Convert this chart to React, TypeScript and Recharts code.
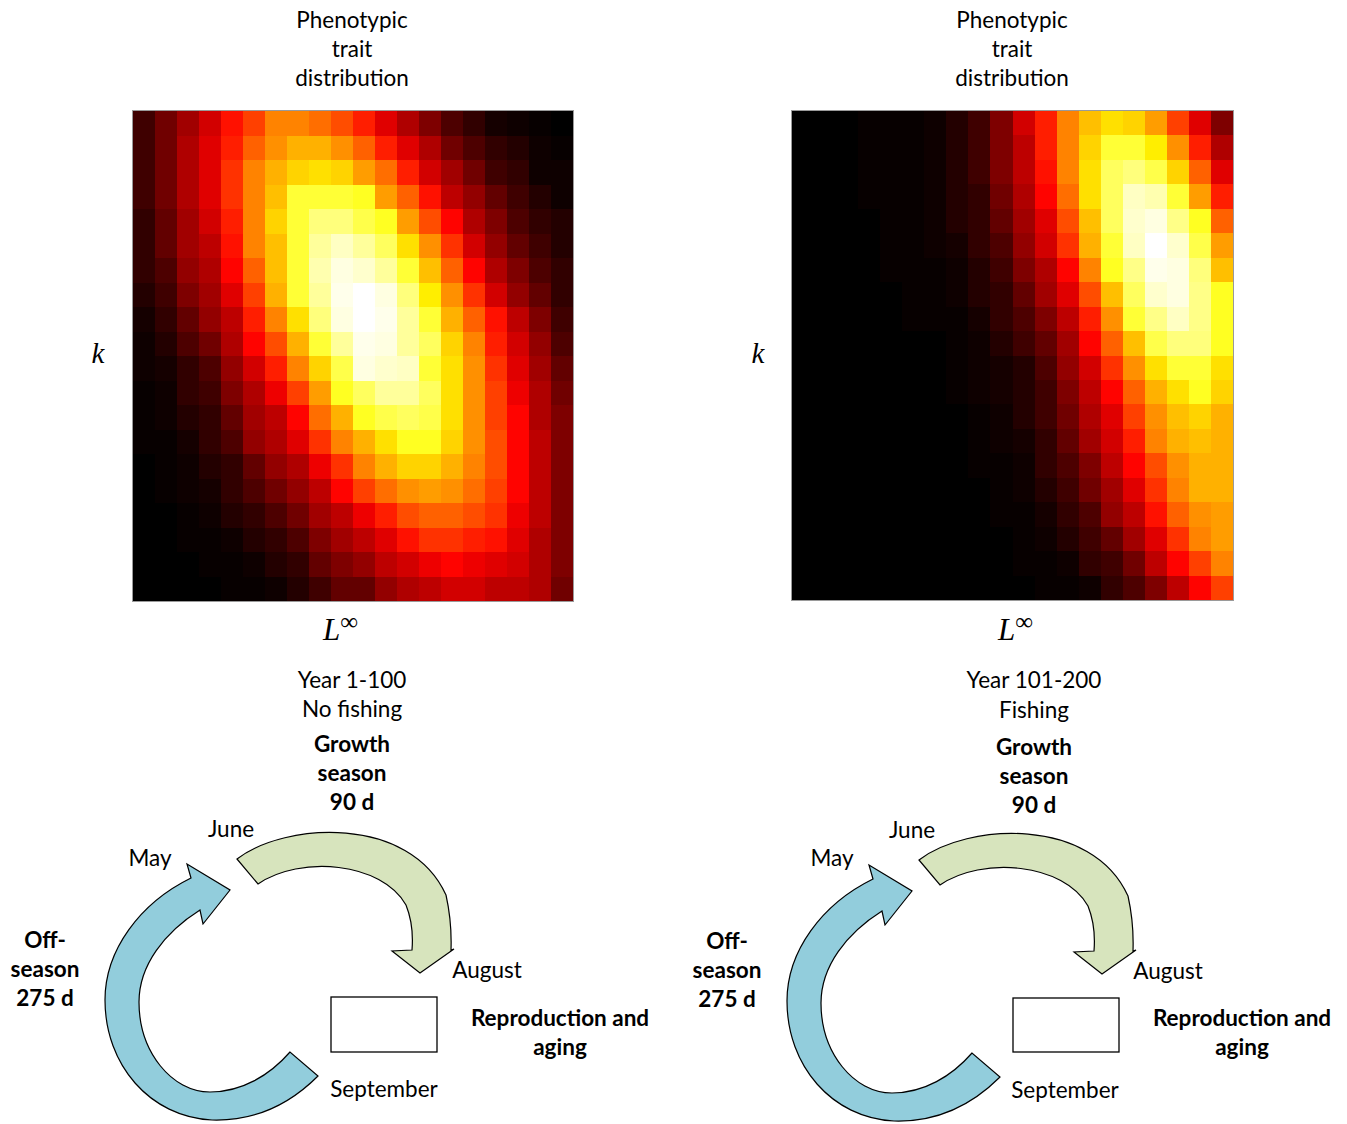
import React from 'react';
import { Scatter, ScatterChart, XAxis, YAxis } from 'recharts';

// density of (L∞, k) per cell, 0-100, rows top -> bottom, columns left -> right
const noFishingGrid: number[][] = [
  [9, 16, 23, 30, 39, 46, 56, 56, 53, 48, 41, 32, 25, 18, 11, 7, 3, 2, 1, 0],
  [9, 16, 25, 32, 41, 51, 58, 63, 63, 58, 51, 41, 32, 25, 16, 11, 7, 5, 2, 1],
  [9, 16, 25, 32, 44, 56, 63, 68, 70, 68, 60, 53, 41, 30, 23, 16, 9, 7, 2, 2],
  [9, 16, 25, 32, 44, 56, 65, 80, 80, 80, 78, 60, 51, 39, 27, 21, 14, 9, 5, 2],
  [7, 14, 23, 30, 41, 56, 68, 80, 87, 87, 82, 78, 60, 48, 37, 25, 18, 11, 7, 5],
  [7, 14, 23, 27, 39, 56, 65, 80, 90, 94, 90, 84, 70, 58, 44, 30, 21, 14, 9, 5],
  [7, 11, 21, 25, 37, 51, 65, 80, 92, 97, 95, 90, 80, 65, 51, 37, 25, 18, 11, 7],
  [5, 9, 18, 23, 32, 46, 63, 80, 90, 98, 100, 97, 87, 72, 58, 44, 30, 21, 14, 7],
  [3, 7, 14, 21, 27, 41, 56, 70, 87, 97, 100, 98, 90, 80, 63, 51, 39, 27, 18, 9],
  [2, 5, 11, 16, 25, 37, 48, 63, 80, 90, 98, 97, 90, 84, 68, 56, 41, 30, 21, 11],
  [2, 3, 7, 11, 21, 30, 41, 56, 68, 82, 97, 95, 94, 80, 70, 58, 44, 32, 23, 14],
  [1, 2, 7, 9, 18, 25, 34, 46, 60, 78, 84, 90, 90, 84, 70, 58, 46, 34, 25, 16],
  [1, 2, 5, 7, 14, 23, 27, 37, 53, 63, 78, 82, 84, 82, 70, 58, 46, 37, 25, 18],
  [1, 1, 3, 7, 11, 21, 25, 32, 44, 56, 63, 70, 78, 78, 68, 58, 48, 37, 27, 18],
  [0, 1, 2, 5, 7, 14, 21, 25, 34, 44, 56, 63, 68, 68, 63, 56, 48, 37, 27, 18],
  [0, 1, 2, 3, 7, 11, 16, 21, 27, 37, 46, 53, 58, 60, 58, 53, 46, 37, 27, 18],
  [0, 0, 1, 2, 5, 7, 11, 16, 23, 27, 34, 41, 48, 51, 51, 48, 44, 34, 27, 18],
  [0, 0, 1, 1, 2, 5, 7, 11, 18, 23, 27, 32, 39, 44, 44, 41, 39, 32, 25, 18],
  [0, 0, 0, 1, 1, 2, 5, 7, 14, 18, 21, 27, 30, 34, 37, 34, 32, 30, 25, 18],
  [0, 0, 0, 0, 1, 1, 2, 5, 9, 14, 14, 21, 25, 27, 30, 30, 27, 27, 25, 16],
];

const fishingGrid: number[][] = [
  [0, 0, 0, 1, 1, 1, 2, 5, 9, 18, 30, 41, 56, 65, 70, 68, 60, 46, 32, 18],
  [0, 0, 0, 1, 1, 1, 2, 5, 9, 18, 27, 41, 56, 68, 80, 80, 72, 58, 41, 25],
  [0, 0, 0, 1, 1, 1, 2, 5, 9, 18, 27, 39, 56, 70, 84, 87, 82, 68, 51, 32],
  [0, 0, 0, 1, 1, 1, 2, 5, 7, 16, 25, 37, 53, 70, 84, 94, 92, 80, 60, 41],
  [0, 0, 0, 0, 1, 1, 2, 5, 7, 14, 23, 32, 48, 65, 84, 95, 97, 88, 78, 51],
  [0, 0, 0, 0, 1, 1, 2, 3, 7, 11, 21, 30, 44, 63, 80, 94, 100, 95, 82, 60],
  [0, 0, 0, 0, 1, 1, 1, 2, 5, 9, 18, 25, 37, 56, 78, 88, 98, 97, 87, 65],
  [0, 0, 0, 0, 0, 1, 1, 2, 5, 7, 14, 23, 32, 48, 65, 84, 95, 97, 88, 78],
  [0, 0, 0, 0, 0, 1, 1, 1, 3, 7, 11, 18, 27, 41, 58, 80, 88, 94, 88, 78],
  [0, 0, 0, 0, 0, 0, 0, 1, 2, 5, 9, 14, 23, 37, 51, 65, 82, 87, 87, 78],
  [0, 0, 0, 0, 0, 0, 0, 1, 2, 3, 5, 11, 21, 30, 44, 58, 70, 80, 80, 70],
  [0, 0, 0, 0, 0, 0, 0, 1, 2, 3, 5, 9, 18, 27, 37, 51, 63, 70, 78, 68],
  [0, 0, 0, 0, 0, 0, 0, 0, 1, 2, 5, 9, 16, 25, 32, 46, 58, 65, 68, 63],
  [0, 0, 0, 0, 0, 0, 0, 0, 1, 2, 3, 7, 14, 23, 30, 41, 56, 63, 65, 63],
  [0, 0, 0, 0, 0, 0, 0, 0, 1, 1, 2, 7, 11, 18, 27, 37, 48, 58, 63, 63],
  [0, 0, 0, 0, 0, 0, 0, 0, 0, 1, 2, 5, 9, 16, 23, 32, 44, 56, 63, 63],
  [0, 0, 0, 0, 0, 0, 0, 0, 0, 1, 1, 3, 7, 11, 21, 27, 39, 51, 58, 60],
  [0, 0, 0, 0, 0, 0, 0, 0, 0, 0, 1, 2, 5, 9, 14, 23, 32, 44, 56, 60],
  [0, 0, 0, 0, 0, 0, 0, 0, 0, 0, 1, 1, 2, 7, 9, 16, 27, 37, 46, 56],
  [0, 0, 0, 0, 0, 0, 0, 0, 0, 0, 0, 1, 1, 2, 7, 11, 18, 27, 37, 46],
];

const titleLines = ['Phenotypic', 'trait', 'distribution'];
const growthLines = ['Growth', 'season', '90 d'];
const offLines = ['Off-', 'season', '275 d'];
const reproLines = ['Reproduction and', 'aging'];

const FONT = 'Lato, "Open Sans", sans-serif';
const FS = 22.5;
const MATH = '"Liberation Serif", "DejaVu Serif", serif';

// matplotlib "hot" colormap
const clamp = (x: number) => Math.max(0, Math.min(1, x));
const hot = (v: number) => {
  const t = v / 100;
  const r = Math.round(255 * clamp(t / 0.365));
  const g = Math.round(255 * clamp((t - 0.365) / 0.381));
  const b = Math.round(255 * clamp((t - 0.746) / 0.254));
  return `rgb(${r},${g},${b})`;
};

const toCells = (grid: number[][]) =>
  grid.flatMap((row, r) => row.map((v, c) => ({ col: c, row: r, v })));

const Heatmap = ({ grid, left, top, width, height }: { grid: number[][]; left: number; top: number; width: number; height: number }) => {
  const cw = width / grid[0].length;
  const ch = height / grid.length;
  return (
    <div style={{ position: 'absolute', left, top, width, height, outline: '1px solid #9a9a9a' }}>
      <ScatterChart width={width} height={height} margin={{ top: 0, right: 0, bottom: 0, left: 0 }}>
        <XAxis type="number" dataKey="col" domain={[-0.5, grid[0].length - 0.5]} allowDataOverflow hide />
        <YAxis type="number" dataKey="row" domain={[-0.5, grid.length - 0.5]} allowDataOverflow reversed hide />
        <Scatter
          data={toCells(grid)}
          isAnimationActive={false}
          shape={(p: any) => (
            <rect
              x={p.cx - cw / 2}
              y={p.cy - ch / 2}
              width={cw + 1}
              height={ch + 1}
              fill={hot(p.payload.v)}
              shapeRendering="crispEdges"
            />
          )}
        />
      </ScatterChart>
    </div>
  );
};

const Lines = ({ lines, x, y, bold = false, gap = 29 }: { lines: string[]; x: number; y: number; bold?: boolean; gap?: number }) => (
  <text x={x} y={y} textAnchor="middle" fontFamily={FONT} fontSize={FS} fontWeight={bold ? 700 : 400} fill="#000">
    {lines.map((l, i) => (
      <tspan key={i} x={x} dy={i === 0 ? 0 : gap}>
        {l}
      </tspan>
    ))}
  </text>
);

const Label = ({ x, y, children }: { x: number; y: number; children: string }) => (
  <text x={x} y={y} textAnchor="middle" fontFamily={FONT} fontSize={FS} fill="#000">
    {children}
  </text>
);

// season cycle arrows, drawn in the left panel's frame
const Cycle = ({ dx, dy }: { dx: number; dy: number }) => (
  <g transform={`translate(${dx},${dy})`}>
    <path
      d="M237,859 C285,822 410,815 446,895 Q452,922 451,950 L454,949 L420,973 L392,951 L412,950 Q414,925 406,905 C382,862 300,855 258,884 Z"
      fill="#d7e4bd"
      stroke="#000"
      strokeWidth={1.2}
    />
    <path
      d="M318,1076 C282,1112 245,1121 212,1120 C150,1117 105,1065 105,1000 C105,950 140,903 191,878 L187,864 L230,890 L203,924 L200,910 C165,932 139,965 139,1002 C139,1052 172,1092 210,1092 C242,1092 270,1075 290,1052 Z"
      fill="#92cddc"
      stroke="#000"
      strokeWidth={1.2}
    />
  </g>
);

export default function App() {
  return (
    <div style={{ position: 'absolute', left: 0, top: 0, width: 1347, height: 1124, background: '#fff', overflow: 'hidden' }}>
      <svg width={1347} height={1124} style={{ position: 'absolute', left: 0, top: 0 }}>
        <Lines lines={titleLines} x={352} y={28} />
        <Lines lines={titleLines} x={1012} y={28} />

        <text x={98} y={363} textAnchor="middle" fontFamily={MATH} fontStyle="italic" fontSize={29}>k</text>
        <text x={758} y={363} textAnchor="middle" fontFamily={MATH} fontStyle="italic" fontSize={29}>k</text>
        <text x={323} y={640} fontFamily={MATH} fontStyle="italic" fontSize={31}>
          L<tspan dy={-10} fontSize={25} fontStyle="normal">∞</tspan>
        </text>
        <text x={998} y={640} fontFamily={MATH} fontStyle="italic" fontSize={31}>
          L<tspan dy={-10} fontSize={25} fontStyle="normal">∞</tspan>
        </text>

        <Lines lines={['Year 1-100', 'No fishing']} x={352} y={688} />
        <Lines lines={['Year 101-200', 'Fishing']} x={1034} y={688} gap={30} />

        <Lines lines={growthLines} x={352} y={752} bold />
        <Lines lines={growthLines} x={1034} y={755} bold />

        <Cycle dx={0} dy={0} />
        <Cycle dx={682} dy={1} />

        <Label x={231} y={837}>June</Label>
        <Label x={912} y={838}>June</Label>
        <Label x={150} y={866}>May</Label>
        <Label x={832} y={866}>May</Label>
        <Label x={487} y={978}>August</Label>
        <Label x={1168} y={979}>August</Label>
        <Label x={384} y={1097}>September</Label>
        <Label x={1065} y={1098}>September</Label>

        <Lines lines={offLines} x={45} y={948} bold />
        <Lines lines={offLines} x={727} y={949} bold />
        <Lines lines={reproLines} x={560} y={1026} bold />
        <Lines lines={reproLines} x={1242} y={1026} bold />

        <rect x={331} y={997} width={106} height={55} fill="#fff" stroke="#000" strokeWidth={1.3} />
        <rect x={1013} y={998} width={106} height={54} fill="#fff" stroke="#000" strokeWidth={1.3} />
      </svg>

      <Heatmap grid={noFishingGrid} left={133} top={111} width={440} height={490} />
      <Heatmap grid={fishingGrid} left={792} top={111} width={441} height={489} />
    </div>
  );
}
